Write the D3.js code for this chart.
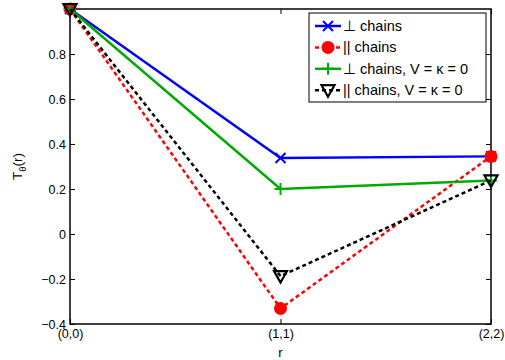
<!DOCTYPE html>
<html>
<head>
<meta charset="utf-8">
<script src="https://cdn.jsdelivr.net/npm/d3@7"></script>
<style>
  body { margin: 0; background: #fff; }
  text { font-family: "Liberation Sans", Arial, sans-serif; }
</style>
</head>
<body>
<svg width="505" height="360"></svg>
<script>
// Data
const categories = ["(0,0)", "(1,1)", "(2,2)"];
const perpChains = [1.0, 0.338, 0.345];
const parChains = [1.0, -0.331, 0.345];
const perpChainsV0 = [1.0, 0.2, 0.238];
const parChainsV0 = [1.0, -0.187, 0.238];
const yTicks = [-0.4, -0.2, 0, 0.2, 0.4, 0.6, 0.8];

const series = [
    { name: "\u22A5 chains", values: perpChains, color: "#0000ff", dash: null, marker: "x" },
    { name: "|| chains", values: parChains, color: "#ff0000", dash: "4,3", marker: "circle" },
    { name: "\u22A5 chains, V = \u03BA = 0", values: perpChainsV0, color: "#00aa00", dash: null, marker: "plus" },
    { name: "|| chains, V = \u03BA = 0", values: parChainsV0, color: "#000000", dash: "4,3", marker: "tri" }
];

const svg = d3.select("svg"),
    margin = { top: 9, right: 14, bottom: 36, left: 70 },
    width = +svg.attr("width") - margin.left - margin.right,
    height = +svg.attr("height") - margin.top - margin.bottom,
    g = svg.append("g").attr("transform", `translate(${margin.left},${margin.top})`);

const x = d3.scalePoint().domain(categories).range([0, width]);
const y = d3.scaleLinear().domain([-0.4, 1]).range([height, 0]);

// Axes: ticks point inward like MATLAB
const xAxis = g.append("g")
    .attr("transform", `translate(0,${height})`)
    .call(d3.axisBottom(x).tickSizeInner(-5).tickSizeOuter(0).tickPadding(6));
const yAxis = g.append("g")
    .call(d3.axisLeft(y).tickValues(yTicks).tickFormat(d => d === 0 ? "0" : d.toFixed(1).replace("-", "\u2212"))
        .tickSizeInner(-5).tickSizeOuter(0).tickPadding(4));
const yRight = g.append("g")
    .attr("transform", `translate(${width},0)`)
    .call(d3.axisRight(y).tickValues(yTicks).tickFormat("").tickSizeInner(-5).tickSizeOuter(0));
const xTop = g.append("g")
    .call(d3.axisTop(x).tickFormat("").tickSizeInner(-5).tickSizeOuter(0));

[xAxis, yAxis, yRight, xTop].forEach(a => {
    a.select(".domain").remove();
    a.selectAll("line").attr("stroke", "#000");
    a.selectAll("text").attr("fill", "#000").attr("font-size", 12.5);
});
xAxis.selectAll("text").attr("dy", "0.6em");

// Box
g.append("rect")
    .attr("width", width).attr("height", height)
    .attr("fill", "none").attr("stroke", "#000").attr("stroke-width", 1.5);

// Axis labels
g.append("text")
    .attr("x", width / 2).attr("y", height + 33)
    .attr("text-anchor", "middle").attr("font-size", 13).text("r");

const yl = svg.append("text")
    .attr("transform", `translate(22,${margin.top + y(0.3)}) rotate(-90)`)
    .attr("text-anchor", "middle").attr("font-size", 13.5);
yl.append("tspan").text("T");
yl.append("tspan").attr("font-size", 9.5).attr("dy", 4).text("\u03B8");
yl.append("tspan").attr("dy", -4).text("(r)");

// Marker drawer
function drawMarker(sel, type, color) {
    if (type === "x") {
        sel.append("path").attr("d", "M-5,-5L5,5M-5,5L5,-5")
            .attr("stroke", color).attr("stroke-width", 2).attr("fill", "none");
    } else if (type === "plus") {
        sel.append("path").attr("d", "M-6,0L6,0M0,-6L0,6")
            .attr("stroke", color).attr("stroke-width", 2).attr("fill", "none");
    } else if (type === "circle") {
        sel.append("circle").attr("r", 6.5).attr("fill", color);
    } else if (type === "tri") {
        sel.append("path").attr("d", "M-6.5,-5L6.5,-5L0,6.5Z")
            .attr("stroke", color).attr("stroke-width", 2.2).attr("fill", "none");
    }
}

const line = d3.line().x((d, i) => x(categories[i])).y(d => y(d));

series.forEach(s => {
    g.append("path")
        .datum(s.values)
        .attr("d", line)
        .attr("fill", "none")
        .attr("stroke", s.color)
        .attr("stroke-width", 2.5)
        .attr("stroke-dasharray", s.dash);
    s.values.forEach((v, i) => {
        const m = g.append("g").attr("transform", `translate(${x(categories[i])},${y(v)})`);
        drawMarker(m, s.marker, s.color);
    });
});

// Legend
const legendBox = svg.append("g").attr("transform", "translate(309,13)");
legendBox.append("rect")
    .attr("width", 177).attr("height", 89)
    .attr("fill", "#fff").attr("stroke", "#000").attr("stroke-width", 1);

const legend = legendBox.selectAll(".legend")
    .data(series)
    .enter().append("g")
    .attr("transform", (d, i) => `translate(0,${13 + i * 21.4})`);

legend.append("line")
    .attr("x1", 6).attr("x2", 32)
    .attr("stroke", d => d.color).attr("stroke-width", 2.5)
    .attr("stroke-dasharray", d => d.dash);
legend.each(function (d) {
    const m = d3.select(this).append("g").attr("transform", "translate(19,0)");
    drawMarker(m, d.marker, d.color);
});
legend.append("text")
    .attr("x", 34).attr("dy", "0.35em")
    .attr("font-size", 14.5)
    .text(d => d.name);
</script>
</body>
</html>
